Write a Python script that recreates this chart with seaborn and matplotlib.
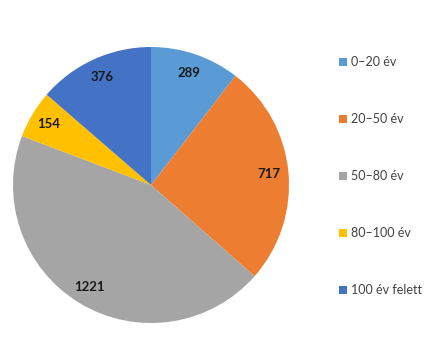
import matplotlib
matplotlib.use("Agg")
import matplotlib.pyplot as plt
import seaborn as sns
from matplotlib.patches import Patch

categories = ["0\u201320 \u00e9v", "20\u201350 \u00e9v", "50\u201380 \u00e9v", "80\u2013100 \u00e9v", "100 \u00e9v felett"]
values = [289, 717, 1221, 154, 376]
colors = ["#5B9BD5", "#ED7D31", "#A5A5A5", "#FFC000", "#4472C4"]

sns.set_theme(style="white")
plt.rcParams['font.family'] = ['Lato', 'DejaVu Sans']

fig = plt.figure(figsize=(4.42, 3.56), dpi=100)
ax = fig.add_axes([13/442, 1-323/356, 276/442, 276/356])
wedges, texts = ax.pie(values, colors=colors, startangle=90, counterclock=False,
                       labels=[str(v) for v in values], labeldistance=0.86,
                       wedgeprops=dict(linewidth=0))
for t in texts:
    t.set_ha("center"); t.set_va("center")
    t.set_fontsize(9.5); t.set_fontweight("bold"); t.set_color("#1a1a1a")
ax.set_xlim(-1, 1)
ax.set_ylim(-1, 1)
ax.set_aspect("equal")

handles = [Patch(facecolor=c, edgecolor="none") for c in colors]
leg = fig.legend(handles, categories, loc="center left", bbox_to_anchor=(328/442, 1-176/356),
                 frameon=False, fontsize=9, handlelength=0.6, handleheight=0.6,
                 handletextpad=0.35, labelspacing=3.6)
for t in leg.get_texts():
    t.set_color("#404040")

fig.savefig("out.png", dpi=100, facecolor="white")
